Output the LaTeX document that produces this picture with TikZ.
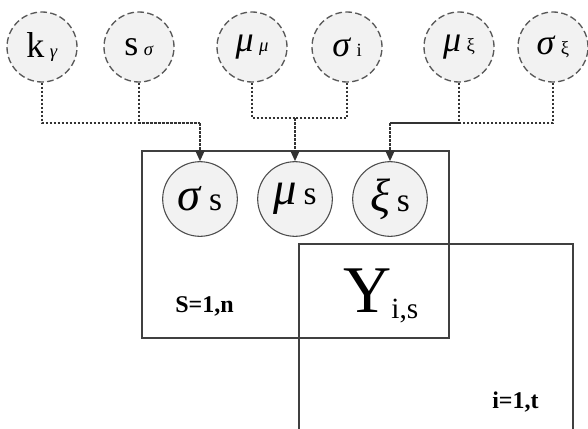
\documentclass[tikz,border=0pt]{standalone}
\usepackage{fontspec}
\setmainfont{Liberation Serif}
\usetikzlibrary{arrows.meta}

% circle labels: big symbol, small index
\newcommand{\hyp}[2]{{\fontsize{27}{27}\selectfont #1}\hspace{4pt}{\fontsize{14}{14}\selectfont #2}}
\newcommand{\prm}[2]{{\fontsize{35}{35}\selectfont #1}\hspace{5pt}{\fontsize{25}{25}\selectfont #2}}

\begin{document}
\begin{tikzpicture}[
  x=0.75pt, y=-0.75pt,
  hyper/.style={circle, draw=black!65, fill=black!5, line width=1pt,
    dash pattern=on 5pt off 2.5pt, minimum size=52.5pt, inner sep=0pt},
  param/.style={circle, draw=black!70, fill=black!5, line width=0.8pt,
    minimum size=56pt, inner sep=0pt},
  link/.style={draw=black!80, line width=1.1pt, dash pattern=on 2pt off 1pt},
  arr/.style={link, -{Triangle[length=8pt, width=7pt]}},
  plate/.style={draw=black!75, line width=0.8pt},
  platelbl/.style={font=\fontsize{18}{18}\selectfont\bfseries, inner sep=0pt, anchor=base west},
]
  \useasboundingbox (0,0) rectangle (588,428);

  % Plates
  \draw[plate] (142,151) rectangle (449,338);
  \draw[plate] (299,244) rectangle (573,440);
  \node[platelbl] (lbls) at (175,312) {S=1,n};
  \node[platelbl] (lbli) at (492,408) {i=1,t};

  % Hyperparameters
  \node[hyper] (kg) at (42,47)  {\hyp{k}{\textit{γ}}};
  \node[hyper] (ss) at (139,47) {\hyp{s}{\textit{σ}}};
  \node[hyper] (mm) at (252,47) {\hyp{\textit{μ}}{\textit{μ}}};
  \node[hyper] (si) at (347,47) {\hyp{\textit{σ}}{i}};
  \node[hyper] (mx) at (459,47) {\hyp{\textit{μ}}{ξ}};
  \node[hyper] (sx) at (553,47) {\hyp{\textit{σ}}{ξ}};

  % Site parameters
  \node[param] (sigs) at (200,199) {\prm{\textit{σ}}{s}};
  \node[param] (mus)  at (295,199) {\prm{\textit{μ}}{s}};
  \node[param] (xis)  at (390,199) {\prm{\textit{ξ}}{s}};

  % Observation
  \node[inner sep=0pt, anchor=base west] (yis) at (343,312)
    {{\fontsize{50}{50}\selectfont Y}\raisebox{-5pt}{\fontsize{22}{22}\selectfont i,s}};

  % Connectors
  \coordinate (jsig) at (200,123);
  \coordinate (jmu)  at (295,118);
  \coordinate (jxi)  at (390,123);
  \draw[link] (kg.south) |- (jsig);
  \draw[link] (ss.south) |- (jsig);
  \draw[arr]  (jsig) -- (sigs.north);
  \draw[link] (mm.south) |- (jmu);
  \draw[link] (si.south) |- (jmu);
  \draw[arr]  (jmu) -- (mus.north);
  \draw[link] (mx.south) |- (jxi);
  \draw[link] (sx.south) |- (jxi);
  \draw[arr]  (jxi) -- (xis.north);
\end{tikzpicture}
\end{document}
